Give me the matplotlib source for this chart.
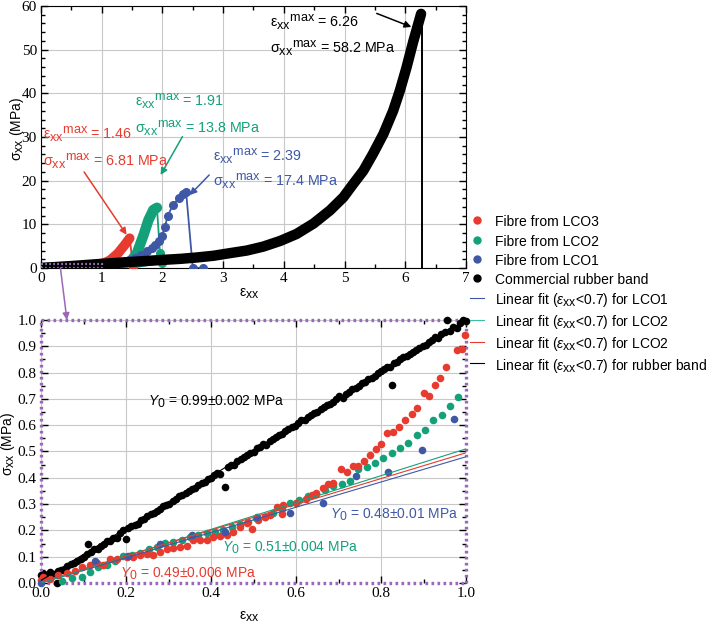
import numpy as np
import matplotlib
matplotlib.use("Agg")
import matplotlib.pyplot as plt
from matplotlib.lines import Line2D
from matplotlib.patches import Rectangle, ConnectionPatch
from matplotlib.ticker import MultipleLocator, FormatStrFormatter

# tick numbers are serif, every other text is sans
plt.rcParams['font.family'] = ['Liberation Serif', 'DejaVu Serif']
plt.rcParams['mathtext.fontset'] = 'custom'
plt.rcParams['mathtext.rm'] = 'Liberation Sans'
plt.rcParams['mathtext.it'] = 'Liberation Sans:italic'
plt.rcParams['mathtext.bf'] = 'Liberation Sans:bold'
# sub/superscripts in the original are nearly full size
try:
    import matplotlib._mathtext as _mt
    _mt.SHRINK_FACTOR = 0.88
except Exception:
    pass

SANS = ['Liberation Sans', 'DejaVu Sans']
RED = '#e63b2e'
GREEN = '#14a17a'
BLUE = '#3f58a6'
PURPLE = '#9a68b8'

# ---- full stress-strain curves (top panel) ----
rubber_x = [0.0, 0.5, 1.0, 1.5, 2.0, 2.3, 2.56, 2.84, 3.11, 3.39, 3.66, 3.94, 4.21,
            4.49, 4.76, 4.98, 5.14, 5.31, 5.47, 5.64, 5.80, 5.91, 6.02, 6.13, 6.26]
rubber_y = [0.0, 0.45, 0.95, 1.4, 1.85, 2.1, 2.4, 2.8, 3.4, 4.0, 4.9, 6.2, 7.8,
            10.2, 13.2, 16.2, 19.2, 22.3, 26.2, 30.7, 36.0, 40.6, 45.9, 51.8, 58.2]
rubber_break_x = 6.27

lco3_x = [0.0, 0.5, 0.92, 1.05, 1.14, 1.27, 1.38, 1.46]
lco3_y = [0.0, 0.3, 0.7, 1.2, 1.8, 3.4, 5.3, 6.81]
lco3_fail_x = [1.46, 1.52]
lco3_fail_y = [6.81, 0.0]

lco2_x = [0.0, 0.8, 1.2, 1.47, 1.58, 1.69, 1.77, 1.85, 1.91]
lco2_y = [0.0, 0.5, 1.0, 1.4, 3.4, 7.6, 11.0, 13.3, 13.8]
lco2_fail_x = [1.91, 1.96, 1.99, 1.55]
lco2_fail_y = [13.8, 3.4, 1.1, 0.2]

lco1_x = [1.45, 1.55, 1.64, 1.74, 1.82, 1.88, 1.94, 2.0, 2.04, 2.09, 2.17, 2.27,
          2.34, 2.39, 2.50, 2.66]
lco1_y = [1.8, 2.4, 3.0, 3.8, 4.5, 5.2, 6.1, 7.4, 9.5, 12.0, 14.4, 16.0,
          16.9, 17.4, 0.0, 0.0]

# ---- low-strain region (bottom panel) ----
black_x = [0.000, 0.008, 0.015, 0.022, 0.030, 0.037, 0.040, 0.048, 0.055, 0.062,
           0.070, 0.078, 0.085, 0.093, 0.100, 0.108, 0.111, 0.118, 0.125, 0.133,
           0.140, 0.148, 0.155, 0.163, 0.170, 0.178, 0.185, 0.193, 0.200, 0.205,
           0.212, 0.220, 0.228, 0.235, 0.243, 0.250, 0.258, 0.265, 0.272, 0.280,
           0.288, 0.295, 0.302, 0.310, 0.318, 0.325, 0.332, 0.340, 0.348, 0.355,
           0.362, 0.370, 0.378, 0.385, 0.393, 0.400, 0.408, 0.415, 0.422, 0.433,
           0.440, 0.447, 0.455, 0.462, 0.470, 0.478, 0.485, 0.492, 0.500, 0.508,
           0.515, 0.522, 0.530, 0.538, 0.545, 0.552, 0.560, 0.568, 0.575, 0.582,
           0.590, 0.598, 0.605, 0.612, 0.620, 0.628, 0.635, 0.642, 0.650, 0.658,
           0.665, 0.672, 0.680, 0.688, 0.695, 0.702, 0.710, 0.718, 0.725, 0.732,
           0.740, 0.748, 0.755, 0.762, 0.770, 0.778, 0.785, 0.792, 0.800, 0.808,
           0.815, 0.822, 0.827, 0.830, 0.838, 0.845, 0.852, 0.860, 0.868, 0.875,
           0.882, 0.890, 0.898, 0.905, 0.912, 0.920, 0.928, 0.935, 0.942, 0.950,
           0.955, 0.962, 0.970, 0.978, 0.985, 0.992, 1.000]
black_y = [0.030, 0.035, 0.028, 0.040, 0.035, 0.000, 0.045, 0.050, 0.048, 0.066,
           0.072, 0.075, 0.083, 0.090, 0.098, 0.110, 0.150, 0.118, 0.130, 0.128,
           0.142, 0.150, 0.160, 0.158, 0.172, 0.170, 0.190, 0.200, 0.167, 0.208,
           0.215, 0.222, 0.226, 0.240, 0.245, 0.255, 0.262, 0.268, 0.275, 0.280,
           0.292, 0.298, 0.300, 0.312, 0.318, 0.330, 0.335, 0.342, 0.350, 0.358,
           0.362, 0.372, 0.380, 0.385, 0.395, 0.400, 0.410, 0.418, 0.415, 0.366,
           0.440, 0.448, 0.450, 0.462, 0.470, 0.478, 0.488, 0.495, 0.500, 0.512,
           0.518, 0.528, 0.525, 0.540, 0.548, 0.555, 0.562, 0.565, 0.578, 0.585,
           0.592, 0.596, 0.610, 0.620, 0.618, 0.632, 0.640, 0.648, 0.652, 0.662,
           0.668, 0.675, 0.682, 0.690, 0.700, 0.712, 0.705, 0.720, 0.728, 0.736,
           0.742, 0.750, 0.762, 0.765, 0.775, 0.780, 0.788, 0.800, 0.805, 0.812,
           0.820, 0.822, 0.753, 0.835, 0.842, 0.850, 0.858, 0.862, 0.870, 0.880,
           0.885, 0.892, 0.900, 0.905, 0.915, 0.925, 0.935, 0.930, 0.945, 0.955,
           1.000, 0.960, 0.975, 0.970, 0.990, 1.000, 0.995]

red_x = [0.000, 0.005, 0.021, 0.041, 0.060, 0.080, 0.096, 0.115, 0.131, 0.147,
         0.162, 0.178, 0.202, 0.217, 0.233, 0.249, 0.264, 0.280, 0.296, 0.311,
         0.327, 0.343, 0.358, 0.374, 0.390, 0.405, 0.421, 0.437, 0.452, 0.468,
         0.484, 0.496, 0.511, 0.527, 0.539, 0.555, 0.566, 0.570, 0.600, 0.624,
         0.637, 0.647, 0.663, 0.676, 0.688, 0.705, 0.719, 0.733, 0.747, 0.761,
         0.774, 0.788, 0.800, 0.815, 0.829, 0.843, 0.856, 0.872, 0.884, 0.900,
         0.914, 0.927, 0.939, 0.953, 0.978, 0.990, 0.998]
red_y = [0.010, 0.024, 0.014, 0.030, 0.037, 0.047, 0.062, 0.068, 0.075, 0.068,
         0.090, 0.090, 0.100, 0.100, 0.106, 0.110, 0.106, 0.119, 0.128, 0.132,
         0.138, 0.141, 0.165, 0.163, 0.163, 0.174, 0.179, 0.182, 0.195, 0.214,
         0.227, 0.204, 0.240, 0.252, 0.259, 0.290, 0.261, 0.297, 0.305, 0.318,
         0.335, 0.343, 0.360, 0.376, 0.381, 0.433, 0.423, 0.445, 0.446, 0.465,
         0.487, 0.508, 0.528, 0.569, 0.573, 0.594, 0.620, 0.641, 0.664, 0.724,
         0.711, 0.753, 0.780, 0.823, 0.886, 0.889, 0.943]

green_x = [0.049, 0.072, 0.096, 0.115, 0.135, 0.155, 0.174, 0.194, 0.213, 0.233,
           0.253, 0.272, 0.292, 0.311, 0.331, 0.351, 0.370, 0.390, 0.409, 0.429,
           0.449, 0.468, 0.488, 0.507, 0.527, 0.547, 0.566, 0.586, 0.608, 0.629,
           0.647, 0.668, 0.688, 0.708, 0.727, 0.747, 0.766, 0.786, 0.805, 0.825,
           0.845, 0.864, 0.884, 0.904, 0.923, 0.943, 0.962, 0.982]
green_y = [0.009, 0.018, 0.024, 0.043, 0.062, 0.068, 0.085, 0.103, 0.106, 0.115,
           0.128, 0.136, 0.151, 0.157, 0.163, 0.174, 0.182, 0.189, 0.195, 0.201,
           0.214, 0.224, 0.233, 0.246, 0.252, 0.265, 0.280, 0.305, 0.316, 0.332,
           0.338, 0.354, 0.370, 0.375, 0.389, 0.433, 0.442, 0.457, 0.474, 0.493,
           0.512, 0.531, 0.563, 0.582, 0.620, 0.639, 0.673, 0.708]

blue_x = [0.000, 0.127, 0.205, 0.280, 0.355, 0.433, 0.509, 0.586, 0.664, 0.741,
          0.817, 0.896, 0.972]
blue_y = [0.000, 0.084, 0.103, 0.150, 0.181, 0.193, 0.251, 0.265, 0.305, 0.407,
          0.423, 0.506, 0.624]

# linear fits (eps_xx < 0.7), modulus Y0 in MPa
fit_x = [0.0, 1.0]
fit_y0 = {'LCO1': 0.48, 'LCO2': 0.51, 'LCO3': 0.49, 'rubber': 0.99}
fit_c0 = {'LCO1': 0.0, 'LCO2': 0.0, 'LCO3': 0.005, 'rubber': 0.01}

fig = plt.figure(figsize=(7.06, 6.26), dpi=100)
ax1 = fig.add_axes([41 / 706, 1 - 268 / 626, 425 / 706, 262 / 626])
ax2 = fig.add_axes([41 / 706, 1 - 583 / 626, 425 / 706, 263 / 626])

DOTS = (0, (0.8, 1.0))


def style_axes(ax):
    ax.tick_params(which='both', direction='in', top=True, right=True, width=1.0)
    ax.tick_params(which='major', length=5, labelsize=11, pad=3)
    ax.tick_params(which='minor', length=3)
    ax.grid(True, which='major', color='#c8c8c8', lw=0.8)
    ax.set_axisbelow(True)


def xx(s):
    return r'$\mathrm{' + s + r'}_{\mathrm{xx}}$'


def xxmax(s):
    return r'$\mathrm{' + s + r'}_{\mathrm{xx}}{}^{\mathrm{max}}$'


# ---------------- top panel ----------------
ax1.set_xlim(0, 7)
ax1.set_ylim(0, 60)
ax1.xaxis.set_major_locator(MultipleLocator(1))
ax1.xaxis.set_minor_locator(MultipleLocator(0.5))
ax1.yaxis.set_major_locator(MultipleLocator(10))
ax1.yaxis.set_minor_locator(MultipleLocator(2))
style_axes(ax1)

ax1.plot(lco3_x, lco3_y, color=RED, lw=7, solid_capstyle='round', zorder=3)
ax1.plot(lco3_fail_x, lco3_fail_y, color=RED, lw=1.3, zorder=3)
ax1.plot(lco3_fail_x[1:], lco3_fail_y[1:], 'o', color=RED, ms=5.5, zorder=3)

ax1.plot(lco2_x, lco2_y, color=GREEN, lw=7.5, solid_capstyle='round', zorder=3)
ax1.plot(lco2_fail_x, lco2_fail_y, color=GREEN, lw=1.3, zorder=3)
ax1.plot(lco2_fail_x[1:3], lco2_fail_y[1:3], 'o', color=GREEN, ms=5.5, zorder=3)

ax1.plot(lco1_x[:14], lco1_y[:14], '-o', color=BLUE, lw=1.3, ms=5.5, zorder=3)
ax1.plot(lco1_x[13:], lco1_y[13:], '-', color=BLUE, lw=1.3, zorder=3)
ax1.plot(lco1_x[14:], lco1_y[14:], 'o', color=BLUE, ms=5.5, zorder=3)

ax1.plot(rubber_x, rubber_y, color='black', lw=7.5, solid_capstyle='round', zorder=4)
ax1.plot([rubber_break_x, rubber_break_x], [rubber_y[-1], 0], color='black', lw=1.4, zorder=4)

ax1.add_patch(Rectangle((0, 0), 1, 1, fill=False, ec=PURPLE, lw=1.6,
                        ls=DOTS, capstyle='butt', zorder=5))

ax1.set_xlabel(xx('ε'), fontsize=10, fontfamily=SANS)
ax1.xaxis.set_label_coords(0.49, -0.07)
ax1.set_ylabel(xx('σ') + ' (MPa)', fontsize=10, fontfamily=SANS)
ax1.yaxis.set_label_coords(-0.036, 0.53)

arrow = dict(arrowstyle='-|>', lw=1.1, mutation_scale=10, shrinkA=0, shrinkB=0)
ann = [
    ('6.26', '58.2', 'black', 3.78, 56.2, 50.3, (5.53, 58.3), (6.10, 55.2)),
    ('1.91', '13.8', GREEN, 1.55, 38.1, 32.0, (2.33, 30.1), (1.97, 21.3)),
    ('1.46', '6.81', RED, 0.04, 30.5, 24.3, (0.71, 22.0), (1.41, 7.6)),
    ('2.39', '17.4', BLUE, 2.84, 25.6, 19.8, (2.77, 21.3), (2.45, 16.7)),
]
for e, s, c, tx, ey, sy, a0, a1 in ann:
    ax1.text(tx, ey, xxmax('ε') + ' = ' + e, color=c, fontsize=10.3, fontfamily=SANS,
             ha='left', va='center', zorder=6)
    ax1.text(tx, sy, xxmax('σ') + ' = ' + s + ' MPa', color=c, fontsize=10.3,
             fontfamily=SANS, ha='left', va='center', zorder=6)
    ax1.annotate('', xy=a1, xytext=a0, arrowprops=dict(color=c, **arrow), zorder=6)

# ---------------- bottom panel ----------------
ax2.set_xlim(0, 1)
ax2.set_ylim(0, 1)
ax2.xaxis.set_major_locator(MultipleLocator(0.2))
ax2.xaxis.set_minor_locator(MultipleLocator(0.1))
ax2.yaxis.set_major_locator(MultipleLocator(0.1))
ax2.yaxis.set_minor_locator(MultipleLocator(0.05))
ax2.xaxis.set_major_formatter(FormatStrFormatter('%.1f'))
ax2.yaxis.set_major_formatter(FormatStrFormatter('%.1f'))
style_axes(ax2)
for sp in ax2.spines.values():
    sp.set_color(PURPLE)
    sp.set_linewidth(2.4)
    sp.set_linestyle(DOTS)
    sp.set_capstyle('butt')

ax2.scatter(black_x, black_y, s=30, color='black', lw=0, zorder=3, clip_on=False)
ax2.scatter(green_x, green_y, s=30, color=GREEN, lw=0, zorder=3, clip_on=False)
ax2.scatter(red_x, red_y, s=30, color=RED, lw=0, zorder=3, clip_on=False)
ax2.scatter(blue_x, blue_y, s=30, color=BLUE, lw=0, zorder=3, clip_on=False)

fits = [('LCO1', BLUE), ('LCO2', GREEN), ('LCO3', RED), ('rubber', 'black')]
for key, c in fits:
    ax2.plot(fit_x, [fit_c0[key] + fit_y0[key] * v for v in fit_x], color=c, lw=0.8, zorder=4)

y0_labels = [
    (0.252, 0.688, '0.99±0.002', 'black'),
    (0.425, 0.132, '0.51±0.004', GREEN),
    (0.186, 0.034, '0.49±0.006', RED),
    (0.68, 0.259, '0.48±0.01', BLUE),
]
for tx, ty, val, c in y0_labels:
    ax2.text(tx, ty, r'$\mathit{Y}_{0}$ = ' + val + ' MPa', color=c, fontsize=10,
             fontfamily=SANS, ha='left', va='center')

ax2.set_xlabel(xx('ε'), fontsize=10, fontfamily=SANS)
ax2.xaxis.set_label_coords(0.49, -0.1)
ax2.set_ylabel(xx('σ') + ' (MPa)', fontsize=10, fontfamily=SANS)
ax2.yaxis.set_label_coords(-0.057, 0.53)

con = ConnectionPatch(xyA=(0.32, 0.0), coordsA=ax1.transData,
                      xyB=(0.061, 1.0), coordsB=ax2.transData,
                      arrowstyle='-|>', color=PURPLE, lw=1.1, mutation_scale=10)
fig.add_artist(con)

# ---------------- legend ----------------
fit_lab = r'Linear fit ($\mathit{ε}_{\mathrm{xx}}$<0.7) for '
handles = [
    Line2D([], [], ls='none', marker='o', ms=5, color=RED, label='Fibre from LCO3'),
    Line2D([], [], ls='none', marker='o', ms=5, color=GREEN, label='Fibre from LCO2'),
    Line2D([], [], ls='none', marker='o', ms=5, color=BLUE, label='Fibre from LCO1'),
    Line2D([], [], ls='none', marker='o', ms=5, color='black', label='Commercial rubber band'),
    Line2D([], [], color=BLUE, lw=0.8, label=fit_lab + 'LCO1'),
    Line2D([], [], color='#3cbfa0', lw=0.8, label=fit_lab + 'LCO2'),
    Line2D([], [], color=RED, lw=0.8, label=fit_lab + 'LCO2'),
    Line2D([], [], color='black', lw=0.8, label=fit_lab + 'rubber band'),
]
fig.legend(handles=handles, loc='upper left', bbox_to_anchor=(470 / 706, 1 - 214 / 626),
           frameon=False, prop={'family': SANS, 'size': 10}, handlelength=1.0,
           handletextpad=0.8, handleheight=1.35, labelspacing=0.27,
           borderpad=0, borderaxespad=0)

fig.savefig('out.png', dpi=100)
